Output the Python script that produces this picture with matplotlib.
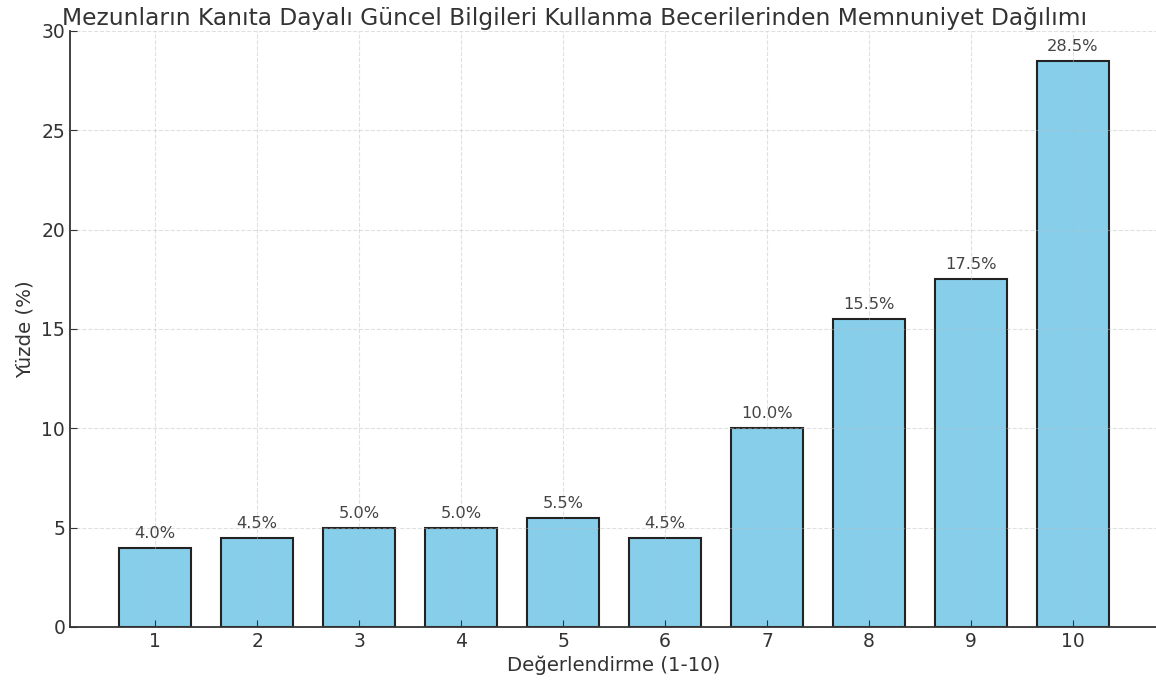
import matplotlib
matplotlib.use("Agg")
import matplotlib.pyplot as plt

categories = [1, 2, 3, 4, 5, 6, 7, 8, 9, 10]
values = [4.0, 4.5, 5.0, 5.0, 5.5, 4.5, 10.0, 15.5, 17.5, 28.5]
title = "Mezunların Kanıta Dayalı Güncel Bilgileri Kullanma Becerilerinden Memnuniyet Dağılımı"

fig = plt.figure(figsize=(11.56, 6.85), dpi=100)
ax = fig.add_axes([70/1156, 58/685, 1088/1156, 596/685])

ax.bar(categories, values, width=0.7, color="skyblue", edgecolor="#222222", linewidth=1.5, zorder=2)
for x, v in zip(categories, values):
    ax.text(x, v + 0.35, f"{v:.1f}%", ha="center", va="bottom", fontsize=11.7, color="#444444", zorder=4)

ax.set_ylim(0, 30)
ax.set_xticks(categories)
ax.set_yticks([0, 5, 10, 15, 20, 25, 30])
ax.tick_params(direction="in", labelsize=13.5, colors="#333333", length=5)
ax.grid(True, linestyle="--", alpha=0.45, color="#bbbbbb", zorder=3)
ax.set_axisbelow(False)
for s in ["top", "right"]:
    ax.spines[s].set_visible(False)
for s in ["left", "bottom"]:
    ax.spines[s].set_color("#333333")
    ax.spines[s].set_linewidth(1.3)
ax.set_xlabel("Değerlendirme (1-10)", fontsize=14.2, color="#333333", labelpad=3)
ax.set_ylabel("Yüzde (%)", fontsize=14.2, color="#333333", labelpad=5)
ax.set_title(title, fontsize=16.8, color="#333333", loc="left", x=-0.007, pad=4)

fig.savefig("out.png", dpi=100)
